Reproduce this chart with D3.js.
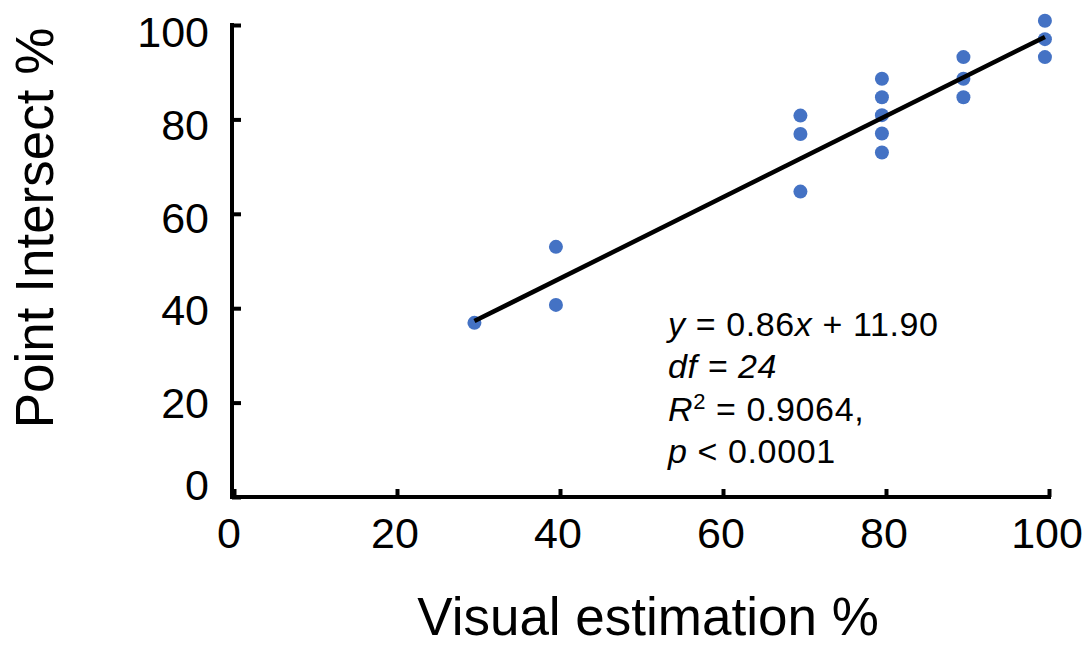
<!DOCTYPE html>
<html>
<head>
<meta charset="utf-8">
<script src="https://cdn.jsdelivr.net/npm/d3@7"></script>
<style>
  body { margin: 0; background: #fff; }
  text { font-family: "Liberation Sans", Arial, Helvetica, sans-serif; fill: #000; }
</style>
</head>
<body>
<div id="chart"></div>
<script>
const visual = [29.5, 39.5, 39.5, 69.5, 69.5, 69.5, 79.5, 79.5, 79.5, 79.5, 79.5, 89.5, 89.5, 89.5, 99.5, 99.5, 99.5];
const intersect = [36.9, 53.0, 40.7, 80.8, 76.9, 64.7, 88.6, 84.7, 80.9, 77.0, 73.0, 93.2, 88.6, 84.7, 100.9, 97.0, 93.2];
const xTicks = [0, 20, 40, 60, 80, 100];
const yTicks = [0, 20, 40, 60, 80, 100];
const slope = 0.86;
const intercept = 11.90;
const fitRange = [29.5, 99.5];

const dotColor = "#4472c4";
const width = 1091;
const height = 646;

const svg = d3.select("#chart")
  .append("svg")
  .attr("width", width)
  .attr("height", height);

const x = d3.scaleLinear().domain([0, 100]).range([234, 1049]);
const y = d3.scaleLinear().domain([0, 100]).range([497, 25]);
// y tick labels sit a little off their ticks in the original
const yLabel = d3.scaleLinear().domain([0, 20, 100]).range([484, 402, 31]);

// axes, ticks pointing inward
const xAxis = svg.append("g")
  .attr("transform", `translate(0,${y(0)})`)
  .call(d3.axisTop(x).tickValues(xTicks).tickSize(8).tickFormat(""));
xAxis.select(".domain").remove();
xAxis.append("line")
  .attr("x1", 230).attr("x2", x(100) + 2)
  .attr("stroke", "#000").attr("stroke-width", 4);
xAxis.selectAll(".tick line").attr("stroke-width", 4);

const yAxis = svg.append("g")
  .attr("transform", "translate(232,0)")
  .call(d3.axisRight(y).tickValues(yTicks).tickSize(9).tickFormat(""));
yAxis.select(".domain").remove();
yAxis.append("line")
  .attr("y1", y(100) - 2).attr("y2", y(0) + 2)
  .attr("stroke", "#000").attr("stroke-width", 4);
yAxis.selectAll(".tick line").attr("stroke-width", 4);

// tick labels
svg.append("g").selectAll("text")
  .data(xTicks)
  .join("text")
  .attr("x", d => d === 0 ? x(d) - 5 : x(d) - 2)
  .attr("y", 548)
  .attr("text-anchor", "middle")
  .style("font-size", "43px")
  .text(d => d);

svg.append("g").selectAll("text")
  .data(yTicks)
  .join("text")
  .attr("x", 209)
  .attr("y", d => yLabel(d) + 16)
  .attr("text-anchor", "end")
  .style("font-size", "43px")
  .text(d => d);

// axis titles
svg.append("text")
  .attr("x", 648)
  .attr("y", 635)
  .attr("text-anchor", "middle")
  .style("font-size", "53px")
  .text("Visual estimation %");

svg.append("text")
  .attr("transform", "translate(53,228) rotate(-90)")
  .attr("text-anchor", "middle")
  .style("font-size", "53px")
  .text("Point Intersect %");

// points
const pts = visual.map((v, i) => ({ x: v, y: intersect[i] }));
svg.append("g").selectAll("circle")
  .data(pts)
  .join("circle")
  .attr("cx", d => x(d.x))
  .attr("cy", d => y(d.y))
  .attr("r", 7)
  .attr("fill", dotColor);

// regression line
const fitLine = d3.line()
  .x(d => x(d))
  .y(d => y(slope * d + intercept));
svg.append("path")
  .datum(fitRange)
  .attr("d", fitLine)
  .attr("fill", "none")
  .attr("stroke", "#000")
  .attr("stroke-width", 4.5);

// annotation
const note = svg.append("g").style("font-size", "34px").style("letter-spacing", "0.6px");
const l1 = note.append("text").attr("x", 668).attr("y", 336);
l1.append("tspan").style("font-style", "italic").text("y");
l1.append("tspan").text(" = 0.86");
l1.append("tspan").style("font-style", "italic").text("x");
l1.append("tspan").text(" + 11.90");

note.append("text").attr("x", 668).attr("y", 378)
  .style("font-style", "italic").text("df = 24");

const l3 = note.append("text").attr("x", 668).attr("y", 421);
l3.append("tspan").style("font-style", "italic").text("R");
l3.append("tspan").attr("dy", -12).style("font-size", "22px").text("2");
l3.append("tspan").attr("dy", 12).text(" = 0.9064,");

const l4 = note.append("text").attr("x", 668).attr("y", 463);
l4.append("tspan").style("font-style", "italic").text("p");
l4.append("tspan").text(" < 0.0001");
</script>
</body>
</html>
